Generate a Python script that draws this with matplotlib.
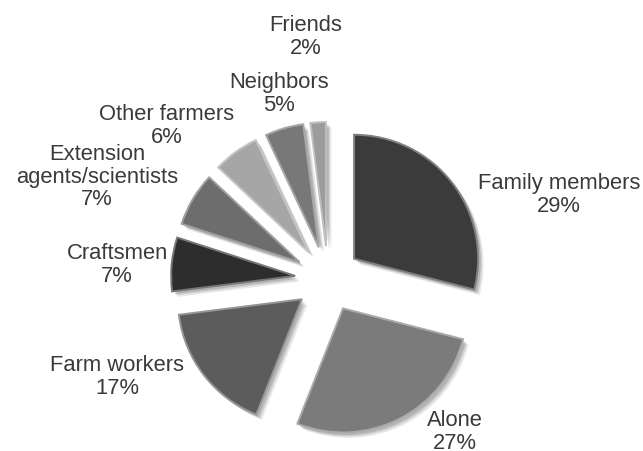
import matplotlib.pyplot as plt
import matplotlib.patheffects as pe
import numpy as np

plt.rcParams['font.family'] = ['Liberation Sans', 'DejaVu Sans']

labels = ['Family members', 'Alone', 'Farm workers', 'Craftsmen',
          'Extension\nagents/scientists', 'Other farmers', 'Neighbors', 'Friends']
shares = [29, 27, 17, 7, 7, 6, 5, 2]
greys = ['#3b3b3b', '#7b7b7b', '#5c5c5c', '#2d2d2d',
         '#6d6d6d', '#a6a6a6', '#787878', '#9c9c9c']

# label anchor points (pixels, origin top-left)
label_xy = [(559, 195), (455, 432), (117, 377), (117, 265),
            (97, 177), (167, 126), (279, 94), (306, 37)]

W, H = 643, 452
fig = plt.figure(figsize=(W / 100, H / 100), dpi=100)
ax = fig.add_axes([0, 0, 1, 1])

cx, cy, R = 328, H - 280, 124
wedges, _ = ax.pie(shares, colors=greys, startangle=90, counterclock=False,
                   explode=[33] * len(shares), radius=R, center=(cx, cy),
                   wedgeprops=dict(linewidth=1.4))

# light bevel rim plus a soft drop shadow
for w, c in zip(wedges, greys):
    rgb = np.array(plt.matplotlib.colors.to_rgb(c))
    light = rgb + (1 - rgb) * 0.35
    w.set_edgecolor(light)
    w.set_path_effects([
        pe.SimplePatchShadow(offset=(4, -4), shadow_rgbFace='k', alpha=0.08),
        pe.SimplePatchShadow(offset=(3, -3), shadow_rgbFace='k', alpha=0.10),
        pe.SimplePatchShadow(offset=(2, -2), shadow_rgbFace='k', alpha=0.14),
        pe.Normal(),
    ])

for lab, v, (x, y) in zip(labels, shares, label_xy):
    ax.text(x, H - y, f'{lab}\n{v}%', ha='center', va='center',
            fontsize=15.8, color='#3a3a3a', linespacing=1.12)

ax.set_xlim(0, W)
ax.set_ylim(0, H)
ax.set_aspect('equal')
ax.axis('off')

fig.savefig('out.png', dpi=100)
